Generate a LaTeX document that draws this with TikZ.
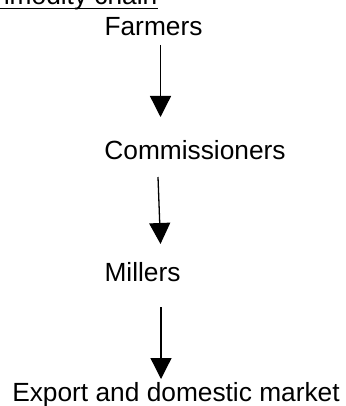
\documentclass[tikz,border=0pt]{standalone}
\usepackage{fontspec}
\setmainfont{Liberation Sans}
\usetikzlibrary{arrows.meta}
\begin{document}
\begin{tikzpicture}[x=1pt,y=-1pt,
  lbl/.style={inner sep=0pt,anchor=base,font=\fontsize{26.3}{30}\selectfont},
  flow/.style={line width=1.3pt,-{Triangle[width=21pt,length=21pt]}}]
\useasboundingbox (0,0) rectangle (345,406);
\node[lbl,anchor=base west] (title) at (-46,5) {Commodity chain};
\draw[line width=1.5pt] ([yshift=-3.3pt]title.base west) -- ([yshift=-3.3pt]title.base east);
\node[lbl] (farmers) at (153.5,36) {Farmers};
\node[lbl] (comm) at (195,159) {Commissioners};
\node[lbl] (millers) at (142.5,281.5) {Millers};
\node[lbl] (export) at (176,401) {Export and domestic market};
\coordinate (a1s) at (160.5,45);
\coordinate (a1e) at (160.5,117);
\coordinate (a2s) at (158,177);
\coordinate (a2e) at (160.5,244);
\coordinate (a3s) at (161,307);
\coordinate (a3e) at (161,379);
\draw[flow] (a1s) -- (a1e);
\draw[flow] (a2s) -- (a2e);
\draw[flow] (a3s) -- (a3e);
\end{tikzpicture}
\end{document}
